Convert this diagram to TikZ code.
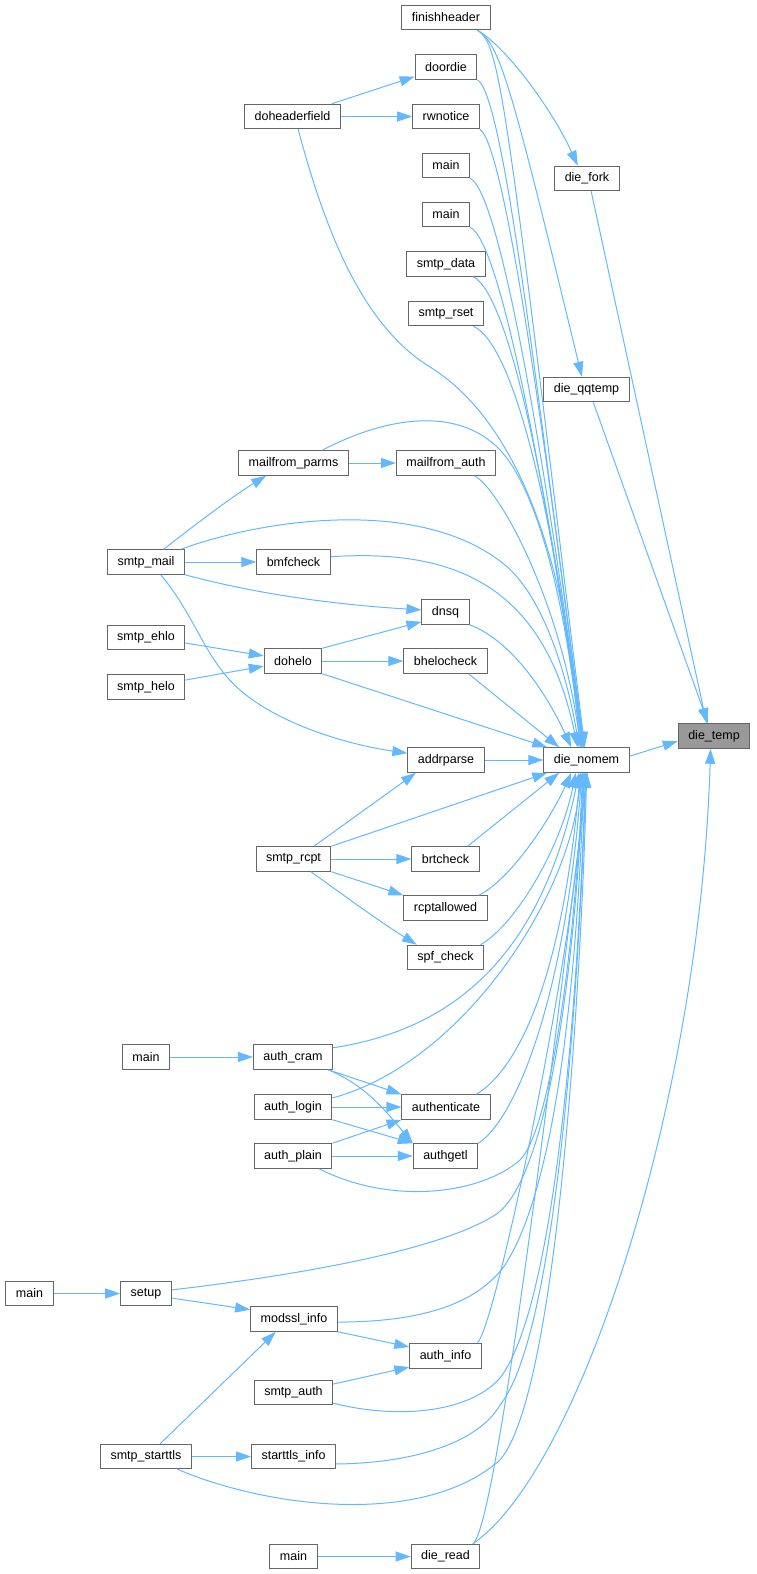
\documentclass[tikz,border=0pt]{standalone}
\usepackage{fontspec}
\setmainfont{Liberation Sans}
\usepackage{tikz}
\usetikzlibrary{arrows.meta}
\definecolor{edgeblue}{HTML}{63B8FF}
\definecolor{boxgray}{HTML}{666666}
\definecolor{tempgray}{HTML}{999999}

\begin{document}
\begin{tikzpicture}[x=1pt,y=-1pt,
    box/.style={draw=boxgray, line width=1pt, fill=white, minimum height=24.5pt,
        inner xsep=10pt, inner ysep=0pt, font=\fontsize{12.5}{15}\selectfont},
    edge/.style={draw=edgeblue, line width=1pt, -{Triangle[length=15pt,width=10pt]}}]
        \useasboundingbox (0,0) rectangle (756,1574);

        \node[box] (1) at (446,17.5) {finishheader};
        \node[box] (2) at (446,67) {doordie};
        \node[box] (3) at (446,116.5) {rwnotice};
        \node[box] (4) at (292.5,116.5) {doheaderfield};
        \node[box] (5) at (446,165.5) {main};
        \node[box] (6) at (446,214.5) {main};
        \node[box] (7) at (446,264) {smtp\_data};
        \node[box] (8) at (446,313.5) {smtp\_rset};
        \node[box] (9) at (587,178.5) {die\_fork};
        \node[box] (10) at (586.5,389.5) {die\_qqtemp};
        \node[box] (11) at (293.5,463) {mailfrom\_parms};
        \node[box] (12) at (446,463) {mailfrom\_auth};
        \node[box] (13) at (146,562) {smtp\_mail};
        \node[box] (14) at (293.5,562) {bmfcheck};
        \node[box] (15) at (445.5,612) {dnsq};
        \node[box] (16) at (146,637.5) {smtp\_ehlo};
        \node[box] (17) at (293,661) {dohelo};
        \node[box] (18) at (445.5,661) {bhelocheck};
        \node[box] (19) at (146,687) {smtp\_helo};
        \node[box] (20) at (446,760) {addrparse};
        \node[box] (21) at (586.5,760) {die\_nomem};
        \node[box, fill=tempgray] (22) at (714,736) {die\_temp};
        \node[box] (23) at (293.5,859) {smtp\_rcpt};
        \node[box] (24) at (445.5,859) {brtcheck};
        \node[box] (25) at (445.5,908) {rcptallowed};
        \node[box] (26) at (445.5,957.5) {spf\_check};
        \node[box] (27) at (146,1057) {main};
        \node[box] (28) at (293,1057) {auth\_cram};
        \node[box] (29) at (293,1107) {auth\_login};
        \node[box] (30) at (446,1107) {authenticate};
        \node[box] (31) at (293,1156) {auth\_plain};
        \node[box] (32) at (445.5,1156) {authgetl};
        \node[box] (33) at (29.5,1293.5) {main};
        \node[box] (34) at (146,1293.5) {setup};
        \node[box] (35) at (294,1319) {modssl\_info};
        \node[box] (36) at (445.5,1356) {auth\_info};
        \node[box] (37) at (293.5,1392.5) {smtp\_auth};
        \node[box] (38) at (146,1456.5) {smtp\_starttls};
        \node[box] (39) at (293.5,1456.5) {starttls\_info};
        \node[box] (40) at (293.5,1556.5) {main};
        \node[box] (41) at (445.5,1556.5) {die\_read};

        \draw[edge] (1.-22) .. controls (510,50) and (555,115) .. (9.126);
        \draw[edge] (1.-22) .. controls (500,45) and (510,80) .. (10.110);
        \draw[edge] (1.-22) .. controls (500,45) and (505,90) .. (21.98);
        \draw[edge] (2.south east) .. controls (505,95) and (540,420) .. (21.100);
        \draw[edge] (3.south east) .. controls (505,145) and (545,440) .. (21.102);
        \draw[edge] (4.18) -- (2.197);
        \draw[edge] (4.east) -- (3.west);
        \draw[edge] (4.-66) .. controls (330,250) and (370,330) .. (430,367) .. controls (490,404) and (560,500) .. (21.112);
        \draw[edge] (5.south east) .. controls (500,192) and (545,460) .. (21.104);
        \draw[edge] (6.south east) .. controls (500,240) and (545,480) .. (21.106);
        \draw[edge] (7.-25) .. controls (510,295) and (550,500) .. (21.108);
        \draw[edge] (8.-25) .. controls (515,345) and (555,520) .. (21.110);
        \draw[edge] (9.-72) -- (22.120);
        \draw[edge] (10.-62) -- (22.115);
        \draw[edge] (21.5) -- (22.188);
        \draw[edge] (41.25) .. controls (580,1470) and (700,1100) .. (22.255);

        \draw[edge] (11.east) -- (12.west);
        \draw[edge] (11.24) .. controls (380,420) and (450,405) .. (495,445) .. controls (540,485) and (568,620) .. (21.116);
        \draw[edge] (12.-24) .. controls (500,490) and (560,600) .. (21.114);
        \draw[edge] (13.36) .. controls (195,525) and (230,498) .. (11.205);
        \draw[edge] (13.20) .. controls (260,520) and (420,495) .. (505,565) .. controls (545,598) and (568,680) .. (21.120);
        \draw[edge] (13.east) -- (14.west);
        \draw[edge] (13.south east) .. controls (260,595) and (340,605) .. (15.175);
        \draw[edge] (13.-41) .. controls (195,615) and (205,660) .. (240,690) .. controls (280,725) and (350,745) .. (20.170);
        \draw[edge] (14.8) .. controls (460,548) and (545,590) .. (21.125);
        \draw[edge] (15.south east) .. controls (510,640) and (545,690) .. (21.140);
        \draw[edge] (16.-8) -- (17.170);
        \draw[edge] (19.10) -- (17.190);
        \draw[edge] (17.north east) -- (15.202);
        \draw[edge] (17.east) -- (18.west);
        \draw[edge] (17.south east) -- (21.162);
        \draw[edge] (18.-29) -- (21.155);
        \draw[edge] (20.east) -- (21.west);

        \draw[edge] (23.32) -- (20.203);
        \draw[edge] (23.north east) -- (21.198);
        \draw[edge] (23.east) -- (24.west);
        \draw[edge] (23.south east) -- (25.north west);
        \draw[edge] (23.-36) .. controls (350,900) and (385,925) .. (26.156);
        \draw[edge] (24.30) -- (21.205);
        \draw[edge] (25.21) .. controls (510,880) and (550,820) .. (21.220);
        \draw[edge] (26.20) .. controls (515,925) and (560,850) .. (21.230);

        \draw[edge] (27.east) -- (28.west);
        \draw[edge] (28.13) .. controls (450,1030) and (540,960) .. (21.240);
        \draw[edge] (28.-20) -- (30.north west);
        \draw[edge] (28.-20) .. controls (365,1085) and (385,1110) .. (32.north west);
        \draw[edge] (29.13) .. controls (460,1064) and (570,900) .. (21.246);
        \draw[edge] (29.east) -- (30.west);
        \draw[edge] (29.south east) -- (32.north west);
        \draw[edge] (31.north east) -- (30.south west);
        \draw[edge] (31.east) -- (32.west);
        \draw[edge] (31.-26) .. controls (390,1205) and (480,1195) .. (520,1160) .. controls (550,1130) and (575,950) .. (21.253);
        \draw[edge] (30.23) .. controls (510,1075) and (560,1000) .. (21.244);
        \draw[edge] (32.north east) .. controls (515,1120) and (565,1000) .. (21.250);

        \draw[edge] (33.east) -- (34.west);
        \draw[edge] (34.8) .. controls (300,1275) and (440,1250) .. (495,1215) .. controls (550,1180) and (576,950) .. (21.256);
        \draw[edge] (34.-10) -- (35.168);
        \draw[edge] (35.-4) .. controls (430,1322) and (480,1300) .. (505,1265) .. controls (560,1180) and (578,950) .. (21.259);
        \draw[edge] (35.south east) -- (36.166);
        \draw[edge] (36.22) .. controls (495,1330) and (575,950) .. (21.262);
        \draw[edge] (37.12) -- (36.197);
        \draw[edge] (37.-15) .. controls (400,1420) and (470,1412) .. (500,1378) .. controls (560,1300) and (580,950) .. (21.265);
        \draw[edge] (38.42) -- (35.215);
        \draw[edge] (38.east) -- (39.west);
        \draw[edge] (38.-22) .. controls (260,1505) and (420,1530) .. (500,1460) .. controls (560,1390) and (582,950) .. (21.271);
        \draw[edge] (39.-10) .. controls (420,1463) and (480,1440) .. (500,1405) .. controls (560,1330) and (580,950) .. (21.268);
        \draw[edge] (40.east) -- (41.west);
        \draw[edge] (41.25) .. controls (498,1527) and (560,1000) .. (21.274);
    \end{tikzpicture}
\end{document}
